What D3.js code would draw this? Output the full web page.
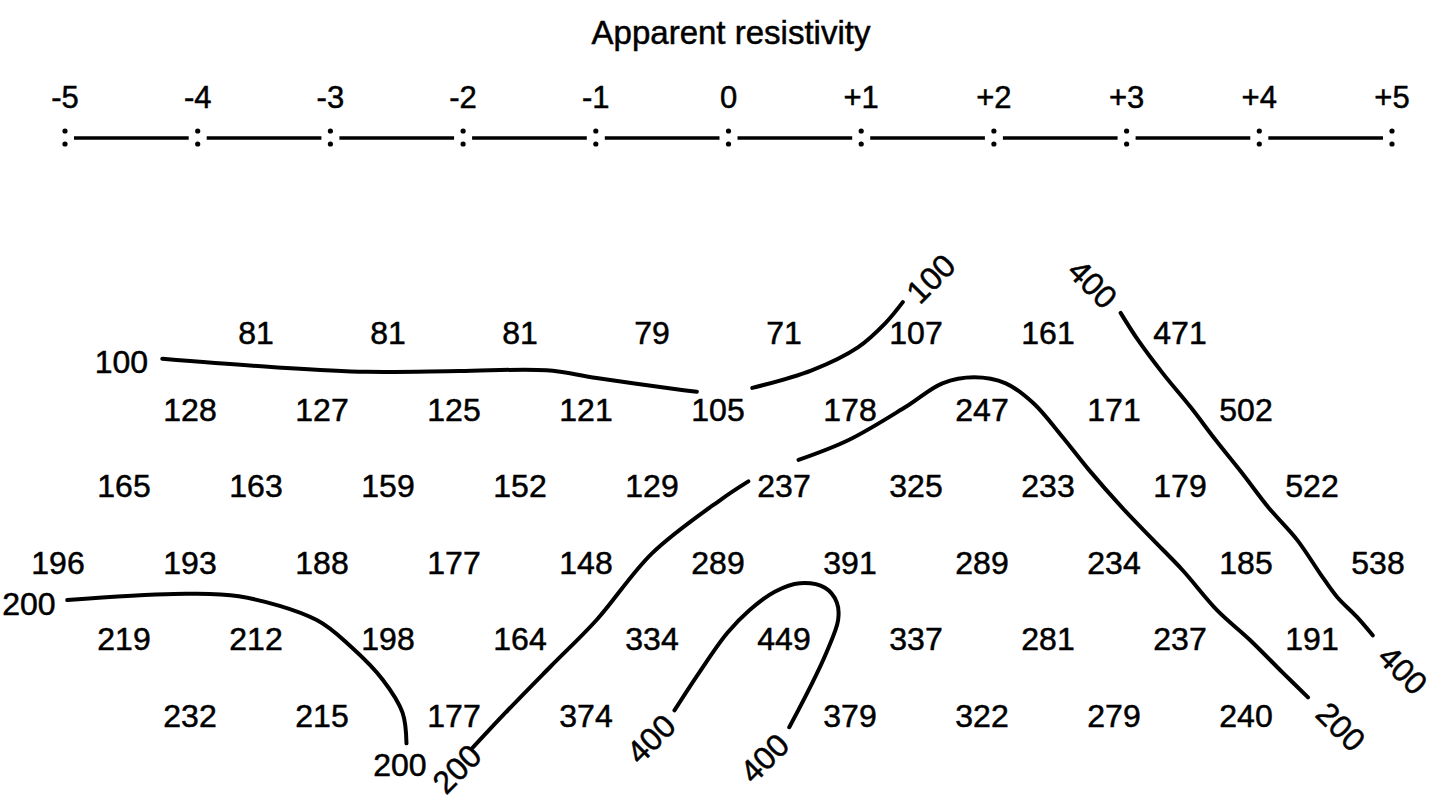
<!DOCTYPE html>
<html>
<head>
<meta charset="utf-8">
<script src="https://cdn.jsdelivr.net/npm/d3@7"></script>
<style>
  html, body { margin: 0; padding: 0; background: #fff; }
  svg { display: block; }
  text { font-family: "Liberation Sans", Arial, Helvetica, sans-serif; fill: #000; stroke: #000; stroke-width: 0.5px; }
</style>
</head>
<body>
<svg id="chart" width="1444" height="802"></svg>
<script>
// ---------- DATA ----------
const title = "Apparent resistivity";
const electrodeTicks = [-5, -4, -3, -2, -1, 0, 1, 2, 3, 4, 5];
const tickLabels = ["-5", "-4", "-3", "-2", "-1", "0", "+1", "+2", "+3", "+4", "+5"];

// pseudosection rows (level 1 = top); start = position of first value
const rowStarts = [-3.5, -4, -4.5, -5, -4.5, -4];
const row1 = [81, 81, 81, 79, 71, 107, 161, 471];
const row2 = [128, 127, 125, 121, 105, 178, 247, 171, 502];
const row3 = [165, 163, 159, 152, 129, 237, 325, 233, 179, 522];
const row4 = [196, 193, 188, 177, 148, 289, 391, 289, 234, 185, 538];
const row5 = [219, 212, 198, 164, 334, 449, 337, 281, 237, 191];
const row6 = [232, 215, 177, 374, null, 379, 322, 279, 240];
const rows = [row1, row2, row3, row4, row5, row6];

// contour lines, [position, level]
const contour100a = [[-4.21,1.35],[-3.36,1.46],[-2.66,1.52],[-1.96,1.51],[-1.30,1.50],[-0.92,1.60],[-0.26,1.76],[-0.16,1.78]];
const contour100b = [[0.26,1.73],[0.71,1.50],[1.06,1.20],[1.27,0.88],[1.40,0.61]];
const contour400a = [[3.05,0.75],[3.18,1.10],[3.37,1.54],[3.58,1.98],[3.77,2.41],[3.97,2.84],[4.17,3.29],[4.39,3.72],[4.56,4.15],[4.69,4.46],[4.84,4.72],[4.96,4.96]];
const contour200a = [[-1.86,6.43],[-1.61,5.97],[-1.27,5.37],[-0.92,4.76],[-0.50,3.89],[0.02,3.19],[0.23,2.95]];
const contour200b = [[0.61,2.67],[0.99,2.41],[1.42,1.98],[1.70,1.67],[1.94,1.59],[2.18,1.67],[2.39,1.93],[2.61,2.37],[2.81,2.80],[3.06,3.29],[3.30,3.72],[3.52,4.11],[3.78,4.63],[4.03,5.02],[4.28,5.45],[4.47,5.77]];
const contour400b = [[-0.33,5.94],[-0.14,5.44],[0.07,4.93],[0.24,4.63],[0.43,4.39],[0.62,4.28],[0.81,4.34],[0.90,4.53],[0.91,4.76],[0.82,5.19],[0.70,5.63],[0.54,6.16]];
const contour200c = [[-4.93,4.50],[-4.12,4.42],[-3.63,4.45],[-3.04,4.76],[-2.78,5.11],[-2.54,5.54],[-2.39,5.97],[-2.36,6.37]];
const contours = [contour100a, contour100b, contour400a, contour200a, contour200b, contour400b, contour200c];

// contour labels: [text, position, level, rotation]
const contourLabelText = ["100", "100", "400", "400", "200", "200", "200", "200", "400", "400"];
const contourLabelPos  = [-4.52, 1.61, 2.84, 5.19, 4.72, -5.22, -2.41, -1.98, -0.51, 0.35];
const contourLabelLvl  = [1.39, 0.30, 0.37, 5.41, 6.15, 4.54, 6.65, 6.70, 6.31, 6.56];
const contourLabelRot  = [0, -45, 45, 45, 45, 0, 0, -45, -45, -45];

// ---------- LAYOUT ----------
const svg = d3.select("#chart");
const axisX = d3.scaleLinear().domain([-5, 5]).range([65, 1392]);
const x = d3.scaleLinear().domain([-5, 5]).range([58, 1378]);
const y = d3.scaleLinear().domain([1, 6]).range([332, 715]);
const numSize = 32;

// title
svg.append("text")
  .attr("x", 731).attr("y", 44)
  .attr("text-anchor", "middle")
  .attr("font-size", 33)
  .text(title);

// electrode axis
const axisG = svg.append("g");
axisG.selectAll("text.tick").data(electrodeTicks).join("text")
  .attr("class", "tick")
  .attr("x", d => axisX(d))
  .attr("y", 108)
  .attr("text-anchor", "middle")
  .attr("font-size", 31)
  .text((d, i) => tickLabels[i]);

const dots = [];
electrodeTicks.forEach(t => { dots.push({t, dy: 131}); dots.push({t, dy: 144}); });
axisG.selectAll("circle").data(dots).join("circle")
  .attr("cx", d => axisX(d.t))
  .attr("cy", d => d.dy)
  .attr("r", 2.6)
  .attr("fill", "#000");

axisG.selectAll("line").data(d3.pairs(electrodeTicks)).join("line")
  .attr("x1", d => axisX(d[0]) + 9)
  .attr("x2", d => axisX(d[1]) - 9)
  .attr("y1", 138).attr("y2", 138)
  .attr("stroke", "#000")
  .attr("stroke-width", 3.5);

// values
const cells = [];
rows.forEach((r, ri) => r.forEach((v, i) => {
  if (v !== null) cells.push({v, pos: rowStarts[ri] + i, lvl: ri + 1});
}));
svg.append("g").selectAll("text").data(cells).join("text")
  .attr("x", d => x(d.pos))
  .attr("y", d => y(d.lvl) + 12)
  .attr("text-anchor", "middle")
  .attr("font-size", numSize)
  .text(d => d.v);

// contour lines
const line = d3.line()
  .x(d => x(d[0]))
  .y(d => y(d[1]))
  .curve(d3.curveCatmullRom.alpha(0.5));
svg.append("g").selectAll("path").data(contours).join("path")
  .attr("d", line)
  .attr("fill", "none")
  .attr("stroke", "#000")
  .attr("stroke-width", 4)
  .attr("stroke-linecap", "round");

// contour labels
svg.append("g").selectAll("text").data(contourLabelText).join("text")
  .attr("transform", (d, i) => `translate(${x(contourLabelPos[i])},${y(contourLabelLvl[i])}) rotate(${contourLabelRot[i]})`)
  .attr("dy", "0.36em")
  .attr("text-anchor", "middle")
  .attr("font-size", numSize)
  .text(d => d);
</script>
</body>
</html>
